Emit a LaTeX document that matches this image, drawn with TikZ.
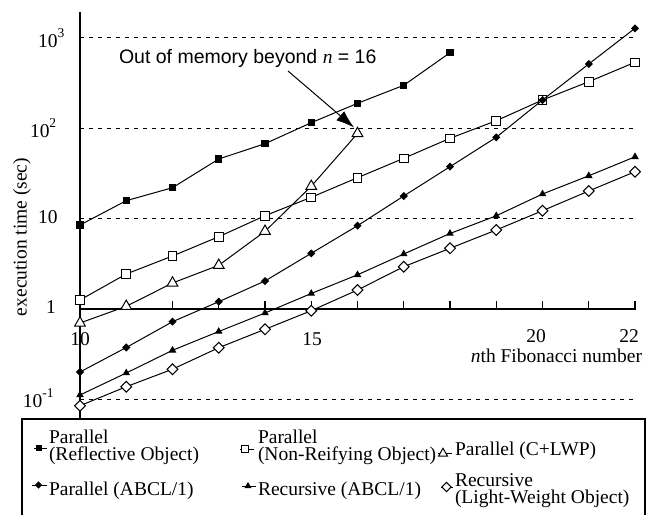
\documentclass[tikz,border=0pt]{standalone}
\usepackage{fontspec}
\setmainfont{Liberation Serif}
\setsansfont{Liberation Sans}
\usetikzlibrary{plotmarks,arrows.meta}

% diamond mark with equal diagonals
\pgfdeclareplotmark{sqdia}{%
  \pgfpathmoveto{\pgfqpoint{0pt}{\pgfplotmarksize}}%
  \pgfpathlineto{\pgfqpoint{\pgfplotmarksize}{0pt}}%
  \pgfpathlineto{\pgfqpoint{0pt}{-\pgfplotmarksize}}%
  \pgfpathlineto{\pgfqpoint{-\pgfplotmarksize}{0pt}}%
  \pgfpathclose
  \pgfusepathqfillstroke}

\newcommand\expo[1]{\raisebox{10pt}{\fontsize{13.5}{13.5}\selectfont #1}}

\tikzset{
  every node/.style={font=\fontsize{19.5}{17}\selectfont, inner sep=0pt, outer sep=0pt},
  axisline/.style={line width=1.3pt},
  gridline/.style={line width=1pt, dash pattern=on 4pt off 5pt},
  series/.style={line width=1pt, mark options={solid, line width=1pt}},
  sRef/.style={series, mark=square*, mark size=3.2pt, mark options={fill=black}},
  sNon/.style={series, mark=square*, mark size=4.3pt, mark options={fill=white}},
  sLwp/.style={series, mark=triangle*, mark size=6.2pt, mark options={fill=white}},
  sPab/.style={series, mark=sqdia, mark size=3.3pt, mark options={fill=black}},
  sRab/.style={series, mark=triangle*, mark size=3.4pt, mark options={fill=black}},
  sLwo/.style={series, mark=sqdia, mark size=5.4pt, mark options={fill=white}},
  keyline/.style={line width=1pt},
  keymark/.style={mark size=0.8*\pgfplotmarksize},
  keytext/.style={anchor=base west},
}

\begin{document}
\begin{tikzpicture}[x=1pt,y=-1pt]
\useasboundingbox (0,0) rectangle (661,514);

% dotted reference levels
\draw[gridline] (80,37) -- (633,37);
\draw[gridline] (80,128) -- (633,128);
\draw[gridline] (80,218) -- (633,218);
\draw[gridline] (80,399) -- (633,399);

% axes
\draw[axisline] (80,12) -- (80,419);
\draw[axisline] (80,309) -- (636,309);
\foreach \xx in {126.25,172.5,218.75,265,311.25,357.5,403.75,450,496.25,542.5,588.75,635}
  \draw[axisline] (\xx,309) -- (\xx,301);

% tick labels
\node[anchor=base west] (y3) at (38,47) {10\expo{3}};
\node[anchor=base west] (y2) at (30,137) {10\expo{2}};
\node[anchor=base west] (y1) at (38,223) {10};
\node[anchor=base west] (y0) at (46,313) {1};
\node[anchor=base west] (ym) at (23,407) {10\expo{-1}};
\node[anchor=base] (x10) at (80,345) {10};
\node[anchor=base] (x15) at (312,345) {15};
\node[anchor=base] (x20) at (536,342) {20};
\node[anchor=base] (x22) at (629,342) {22};

% axis titles
\node[anchor=base east] (xt) at (642,362) {\textit{n}th Fibonacci number};
\node[rotate=90] (yt) at (22,237) {execution time (sec)};

% data series
\draw[sRef] plot coordinates {(80,225) (126.25,200.7) (172.5,187.7) (218.75,159) (265,143.7) (311.25,122.7) (357.5,103.3) (403.75,85.3) (450,52.7)};
\draw[sNon] plot coordinates {(80,300) (126.25,274) (172.5,256) (218.75,236.7) (265,215.7) (311.25,197.3) (357.5,177.7) (403.75,158.3) (450,138.3) (496.25,120.7) (542.5,100) (588.75,81.7) (635,62.3)};
\draw[sLwp] plot coordinates {(80,323) (126.25,306.3) (172.5,283) (218.75,265.3) (265,231.3) (311.25,186.3) (357.5,133.5)};
\draw[sPab] plot coordinates {(80,372) (126.25,347.5) (172.5,321.7) (218.75,301.7) (265,281) (311.25,253.3) (357.5,225.7) (403.75,196) (450,166.7) (496.25,137.3) (542.5,100) (588.75,64) (635,28.3)};
\draw[sRab] plot coordinates {(80,395) (126.25,373) (172.5,350.3) (218.75,331.5) (265,313) (311.25,293.5) (357.5,274.8) (403.75,254) (450,233.5) (496.25,215.8) (542.5,194) (588.75,175.8) (635,156.8)};
\draw[sLwo] plot coordinates {(80,405.7) (126.25,386.7) (172.5,369.2) (218.75,347.7) (265,329.3) (311.25,310.7) (357.5,290) (403.75,266.7) (450,248.3) (496.25,230) (542.5,210.7) (588.75,191) (635,171.7)};

% annotation
\node[anchor=base west] (note) at (119,63.5) {\sffamily Out of memory beyond {\rmfamily\itshape n} = 16};
\coordinate (noteFoot) at (288,71);
\coordinate (lastLwp) at (354,127.5);
\draw[line width=1pt, -{Latex[length=18pt,width=12pt]}] (noteFoot) -- (lastLwp);

% key
\draw[line width=1.3pt] (22,516) -- (22,419) -- (645,419) -- (645,516);

\draw[keyline] (34,448) -- (47,448);
\draw[sRef, mark size=2.8pt] plot coordinates {(39,448)};
\node[keytext] (k1a) at (49,443) {Parallel};
\node[keytext] (k1b) at (49,460) {(Reflective Object)};

\draw[keyline] (240,449) -- (254,449);
\draw[sNon, mark size=3.8pt] plot coordinates {(245,449)};
\node[keytext] (k2a) at (258,443) {Parallel};
\node[keytext] (k2b) at (258,460) {(Non-Reifying Object)};

\draw[keyline] (438,453) -- (452,453);
\draw[sLwp, mark size=5.2pt] plot coordinates {(443,453.5)};
\node[keytext] (k3) at (455,455) {Parallel (C+LWP)};

\draw[keyline] (32,485) -- (47,485);
\draw[sPab, mark size=3pt] plot coordinates {(38.5,485)};
\node[keytext] (k4) at (49,495) {Parallel (ABCL/1)};

\draw[keyline] (242,486) -- (256,486);
\draw[sRab, mark size=3pt] plot coordinates {(248,486)};
\node[keytext] (k5) at (258,495) {Recursive (ABCL/1)};

\draw[keyline] (441,487) -- (453,487);
\draw[sLwo, mark size=4.6pt] plot coordinates {(446.5,487)};
\node[keytext] (k6a) at (455,486.5) {Recursive};
\node[keytext] (k6b) at (455,503) {(Light-Weight Object)};
\end{tikzpicture}
\end{document}
